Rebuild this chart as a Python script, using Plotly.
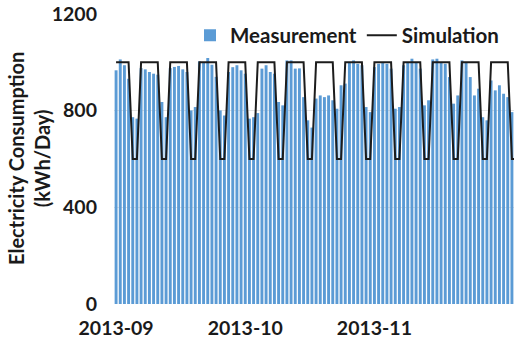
import pandas as pd
import plotly.graph_objects as go

# Daily electricity consumption, Sep 3 2013 onwards (kWh/day)
start_date = "2013-09-03"
n_days = 97
dates = pd.date_range(start_date, periods=n_days, freq="D")

measurement = [
    967, 1012, 988, 932, 773, 767, 976,
    971, 960, 953, 949, 836, 773, 976,
    981, 985, 971, 960, 801, 815, 1004,
    1001, 1018, 990, 940, 801, 780, 960,
    980, 988, 967, 953, 767, 773, 790,
    974, 988, 960, 953, 836, 822, 1008,
    1008, 974, 975, 856, 760, 730, 850,
    863, 856, 863, 843, 808, 905, 912,
    1001, 1008, 994, 988, 815, 794, 980,
    994, 1000, 994, 974, 808, 815, 988,
    1001, 1015, 1001, 974, 822, 843, 1012,
    1015, 1001, 994, 939, 829, 863, 1008,
    1001, 939, 863, 891, 773, 760, 925,
    884, 905, 870, 856, 794,
]

simulation = [
    1000, 1000, 1000, 1000, 600, 600, 1000,
    1000, 1000, 1000, 1000, 600, 600, 1000,
    1000, 1000, 1000, 1000, 600, 600, 1000,
    1000, 1000, 1000, 1000, 600, 600, 1000,
    1000, 1000, 1000, 1000, 600, 600, 1000,
    1000, 1000, 1000, 1000, 600, 600, 1000,
    1000, 1000, 1000, 1000, 600, 600, 1000,
    1000, 1000, 1000, 1000, 600, 600, 1000,
    1000, 1000, 1000, 1000, 600, 600, 1000,
    1000, 1000, 1000, 1000, 600, 600, 1000,
    1000, 1000, 1000, 1000, 600, 600, 1000,
    1000, 1000, 1000, 1000, 600, 600, 1000,
    1000, 1000, 1000, 1000, 600, 600, 1000,
    1000, 1000, 1000, 1000, 600, 600,
]

month_tick_dates = ["2013-09-03", "2013-10-04", "2013-11-04"]
y_ticks = [0, 400, 800, 1200]
y_title = "Electricity Consumption<br>(kWh/Day)"

FONT = "Lato"
TEXT_COLOR = "#1a1a1a"

fig = go.Figure()
fig.add_trace(go.Bar(
    x=dates[:len(measurement)],
    y=measurement,
    name="Measurement",
    marker=dict(color="#5B9BD5", line=dict(width=0)),
))
fig.add_trace(go.Scatter(
    x=dates[:len(simulation)],
    y=simulation,
    name="Simulation",
    mode="lines",
    line=dict(color="#1c1c1c", width=2),
))

x_start = pd.Timestamp(start_date) - pd.Timedelta(hours=12)
x_end = pd.Timestamp(start_date) + pd.Timedelta(hours=24 * 95.5)

fig.update_layout(
    width=514,
    height=345,
    margin=dict(l=114, r=0, t=14, b=41),
    paper_bgcolor="white",
    plot_bgcolor="white",
    bargap=0.3,
    showlegend=True,
    legend=dict(
        orientation="h",
        x=0.19, xanchor="left",
        y=0.995, yanchor="top",
        font=dict(family=FONT, size=20.5, color=TEXT_COLOR, weight="bold"),
        bgcolor="rgba(0,0,0,0)",
        itemwidth=30,
        tracegroupgap=0,
    ),
    xaxis=dict(
        type="date",
        range=[x_start, x_end],
        tickvals=month_tick_dates,
        tickformat="%Y-%m",
        showgrid=False,
        showline=False,
        zeroline=False,
        ticks="",
        ticklabelstandoff=10,
        tickfont=dict(family=FONT, size=19.5, color=TEXT_COLOR, weight="bold"),
    ),
    yaxis=dict(
        range=[0, 1200],
        tickvals=y_ticks,
        showgrid=True,
        gridcolor="#e3e3e3",
        gridwidth=1,
        showline=False,
        zeroline=False,
        ticks="",
        ticklabelstandoff=16,
        tickfont=dict(family=FONT, size=19.5, color=TEXT_COLOR, weight="bold"),
    ),
    annotations=[dict(
        text=y_title,
        xref="paper", yref="paper",
        x=-0.2125, y=0.5,
        xanchor="center", yanchor="middle",
        textangle=-90,
        showarrow=False,
        font=dict(family=FONT, size=20, color=TEXT_COLOR, weight="bold"),
    )],
)

fig.write_html("out.html")
